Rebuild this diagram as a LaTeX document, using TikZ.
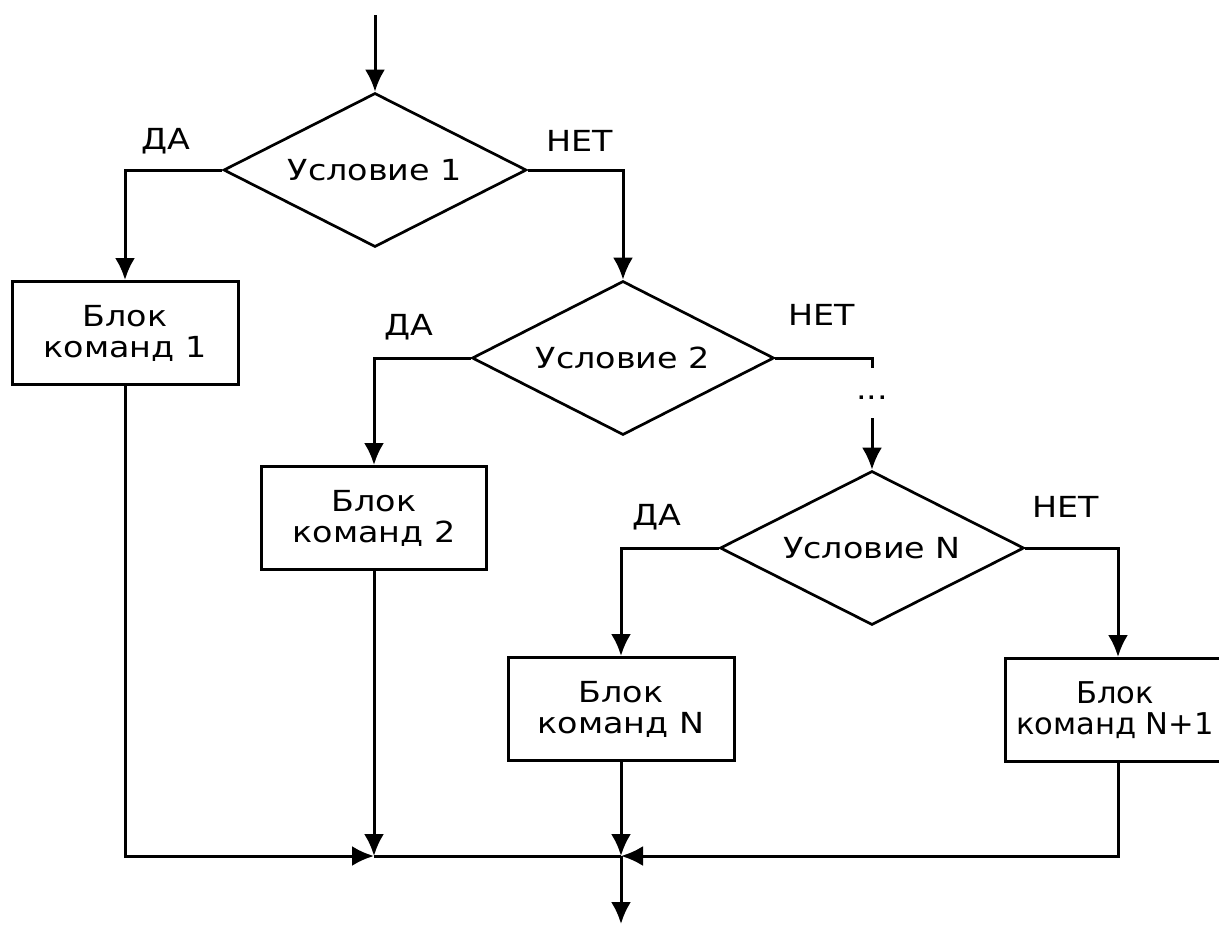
\documentclass[tikz,border=0pt]{standalone}
\usepackage{fontspec}
\setmainfont{DejaVu Sans}[FakeStretch=1.15]
\newfontfamily\plainfam{DejaVu Sans}[FakeStretch=1.02]
\usetikzlibrary{shapes.geometric,arrows.meta}
\begin{document}
\begin{tikzpicture}[x=1pt,y=-1pt,
  every node/.style={font=\fontsize{29}{31}\selectfont},
  line/.style={draw,line width=3pt},
  dec/.style={diamond,draw,line width=2.7pt,inner sep=0pt,aspect=1.97,minimum width=#1,minimum height=154pt},
  blk/.style={draw,rectangle,line width=3pt,inner sep=0pt,minimum width=226pt,minimum height=103pt,align=center},
  arr/.style={line,-{Latex[length=22pt,width=20pt]}},
  lbl/.style={inner sep=0pt}]
\useasboundingbox (0,0) rectangle (1219,927);
\clip (0,0) rectangle (1219,927);
\coordinate (start) at (375,15);
\node[dec=303pt] (d1) at (375,170) {Условие 1};
\node[dec=302pt] (d2) at (623,358) {Условие 2};
\node[dec=304pt] (dN) at (872,548) {Условие N};
\node[blk] (b1) at (125,333) {Блок\\команд 1};
\node[blk,minimum width=225pt] (b2) at (374,518) {Блок\\команд 2};
\node[blk] (bN) at (621,709) {Блок\\команд N};
\node[blk] (bN1) at (1118,710) {};
\node[inner sep=0pt,align=center,font=\plainfam\fontsize{30}{31}\selectfont] (tN1) at (1115,710) {Блок\\команд N+1};
\node[lbl] (y1) at (166,141) {ДА};
\node[lbl] (n1) at (580,141) {НЕТ};
\node[lbl] (y2) at (409,327) {ДА};
\node[lbl] (n2) at (822,315) {НЕТ};
\node[lbl] (yN) at (657,517) {ДА};
\node[lbl] (nN) at (1066,507) {НЕТ};
\node[lbl] (dots) at (872,398) {...};
\coordinate (c1) at (872,368);
\coordinate (c2) at (872,418);
\coordinate (j1) at (374,856);
\coordinate (j2) at (621,856);
\coordinate (end) at (621,924);
\draw[arr] (start) -- (d1.north);
\draw[arr] (d1.west) -| (b1.north);
\draw[arr] (d1.east) -| (d2.north);
\draw[arr] (d2.west) -| (b2.north);
\draw[line] (d2.east) -| (c1);
\draw[arr] (c2) -- (dN.north);
\draw[arr] (dN.west) -| (bN.north);
\draw[arr] (dN.east) -| (bN1.north);
\draw[arr] (b1.south) |- (j1);
\draw[arr] (b2.south) -- (j1);
\draw[line] (j1) -- (j2);
\draw[arr] (bN.south) -- (j2);
\draw[arr] (bN1.south) |- (j2);
\draw[arr] (j2) -- (end);
\end{tikzpicture}
\end{document}
